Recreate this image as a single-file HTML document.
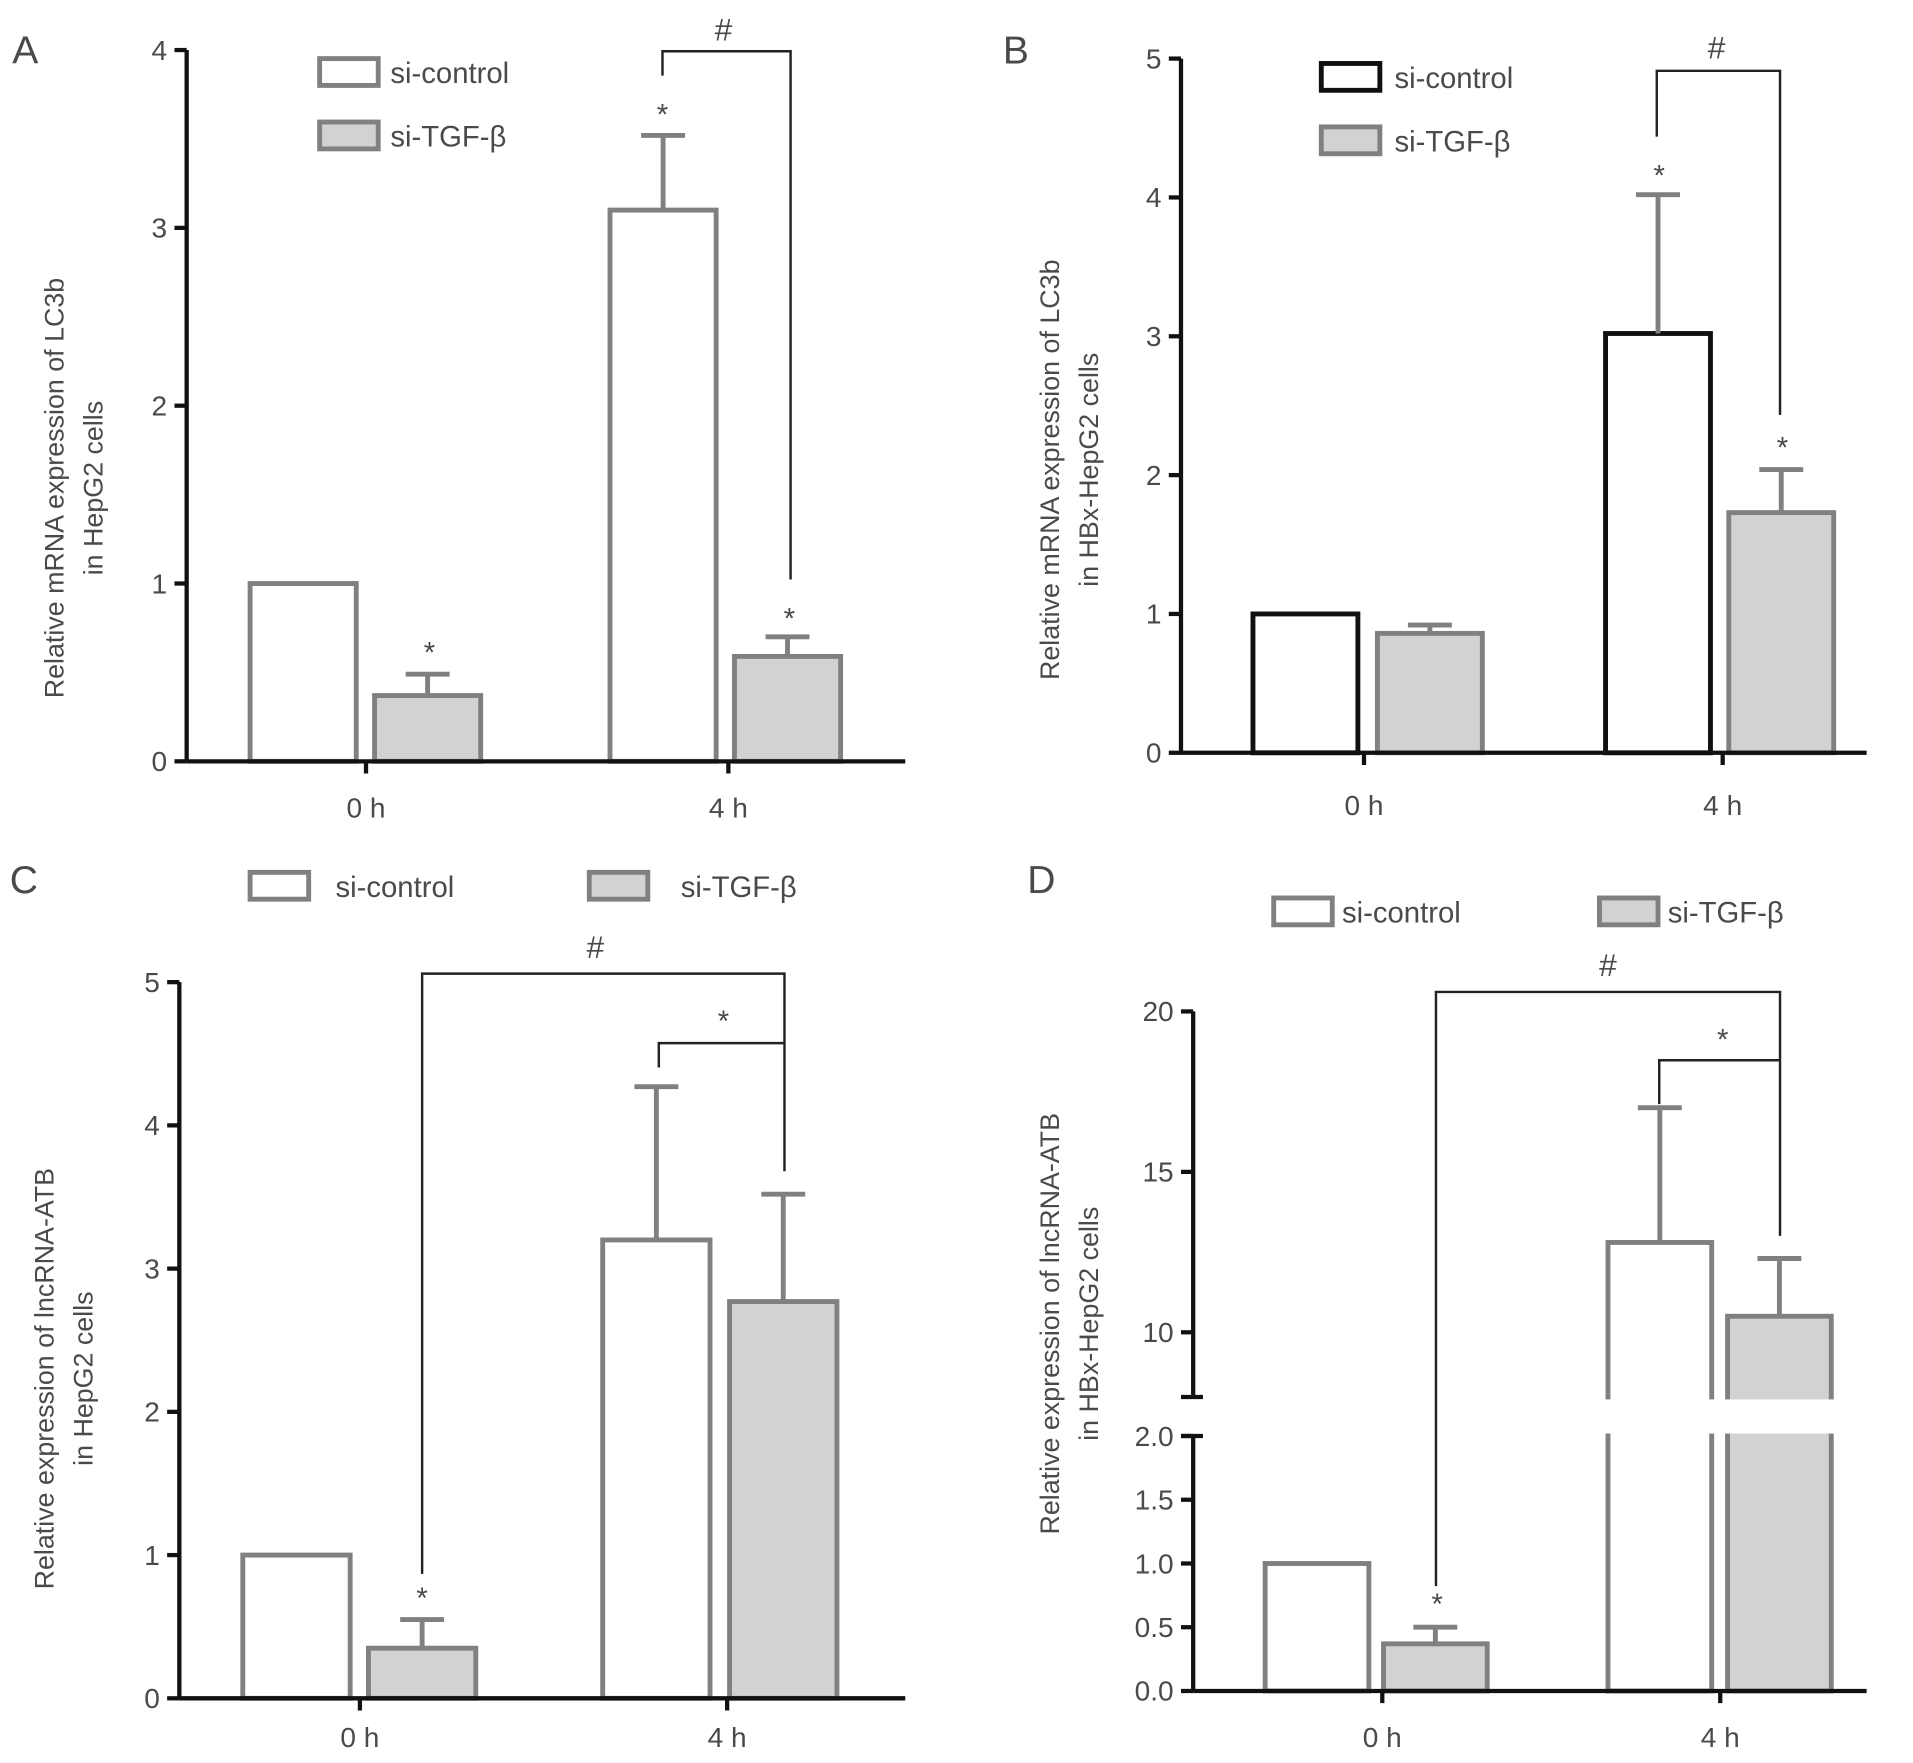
<!DOCTYPE html>
<html><head><meta charset="utf-8"><style>
html,body{margin:0;padding:0;background:#fff;}
svg{display:block;}
text{font-family:"Liberation Sans",sans-serif;fill:#4a4a4a;}
</style></head><body>
<svg id="fig" width="1913" height="1763" viewBox="0 0 1568 1445" xmlns="http://www.w3.org/2000/svg"></svg>
<script>
// Data
const categories = ["0 h", "4 h"];
const seriesNames = ["si-control", "si-TGF-\u03b2"];
const A_values = [[1, 3.1], [0.37, 0.59]];
const A_err = [[1, 3.52], [0.49, 0.70]];
const A_ticks = [0, 1, 2, 3, 4];
const B_values = [[1, 3.02], [0.86, 1.73]];
const B_err = [[1, 4.02], [0.92, 2.04]];
const B_ticks = [0, 1, 2, 3, 4, 5];
const C_values = [[1, 3.2], [0.35, 2.77]];
const C_err = [[1, 4.27], [0.55, 3.52]];
const C_ticks = [0, 1, 2, 3, 4, 5];
const D_values = [[1, 12.8], [0.37, 10.5]];
const D_err = [[1, 17.0], [0.5, 12.3]];
const D_ticksLow = ["0.0", "0.5", "1.0", "1.5", "2.0"];
const D_ticksHigh = [10, 15, 20];

const NS = "http://www.w3.org/2000/svg";
const svg = document.getElementById("fig");
function el(tag, attrs, parent, txt) {
  const e = document.createElementNS(NS, tag);
  for (const k in attrs) e.setAttribute(k, attrs[k]);
  if (txt !== undefined) e.textContent = txt;
  (parent || svg).appendChild(e);
  return e;
}
const GREY = "#808080", FILL = "#d2d2d2";

function panel(cfg) {
  const g = el("g", {});
  
  
  const y = cfg.y;
  // panel letter
  const lt = el("text", {x: cfg.letter[0], y: cfg.letter[1], "font-size": 32, fill: "#222"}, g, cfg.letterText);
  
  
  // bars
  for (let s = 0; s < 2; s++) {
    for (let c = 0; c < 2; c++) {
      const x0 = cfg.barX[c][s], w = cfg.barW;
      const v = cfg.values[s][c], e = cfg.err[s][c];
      const top = y(v), base = cfg.y0;
      const stroke = (cfg.black && s === 0) ? "#111" : GREY;
      const r = el("rect", {x: x0, y: top, width: w, height: base - top, fill: s ? FILL : "#fff", stroke: stroke, "stroke-width": 4}, g);
      
      
      if (e > v + 0.001) {
        const cx = x0 + w / 2;
        const eb = el("path", {d: `M${cx},${top}V${y(e)}M${cx - 18},${y(e)}H${cx + 18}`, stroke: GREY, "stroke-width": 4, fill: "none"}, g);
        
        
      }
    }
  }
  if (cfg.gap) {
    const gp = el("rect", {x: cfg.ax + 10, y: cfg.gap[0], width: 560, height: cfg.gap[1] - cfg.gap[0], fill: "#fff"}, g);
    
    
  }
  // axes
  const yax = el("path", {d: cfg.yAxisPath, stroke: "#111", "stroke-width": 3.5, fill: "none"}, g);
  
  
  const xax = el("path", {d: `M${cfg.ax},${cfg.y0}H${cfg.axEnd}` + cfg.catX.map(cx => `M${cx},${cfg.y0}V${cfg.y0 + 10}`).join(""), stroke: "#111", "stroke-width": 3.5, fill: "none"}, g);
  
  
  cfg.ticks.forEach(t => {
    const ty = y(parseFloat(t));
    el("path", {d: `M${cfg.ax - 10},${ty}H${cfg.ax}`, stroke: "#111", "stroke-width": 3.5}, g);
    const tl = el("text", {x: cfg.ax - 16, y: ty + 8, "text-anchor": "end", "font-size": 23}, g, t);
    
    
  });
  categories.forEach((c, i) => {
    const t = el("text", {x: cfg.catX[i], y: cfg.catY, "text-anchor": "middle", "font-size": 23}, g, c);
    
    
  });
  // y title
  const tt = el("text", {transform: `translate(${cfg.title[0]},${cfg.title[1]}) rotate(-90)`, "text-anchor": "middle", "font-size": 22}, g);
  
  
  el("tspan", {x: 0, dy: 0}, tt, cfg.titleLines[0]);
  el("tspan", {x: 0, dy: 32}, tt, cfg.titleLines[1]);
  // legend
  cfg.legend.forEach((p, i) => {
    const lg = el("g", {}, g);
    
    
    el("rect", {x: p[0], y: p[1], width: 48, height: 22, fill: i ? FILL : "#fff", stroke: (cfg.black && i === 0) ? "#111" : GREY, "stroke-width": 4}, lg);
    el("text", {x: p[2], y: p[1] + 20, "font-size": 24}, lg, seriesNames[i]);
  });
  // brackets and stars
  cfg.brackets.forEach(d => {
    const b = el("path", {d: d, stroke: "#222", "stroke-width": 2, fill: "none"}, g);
    
    
  });
  cfg.marks.forEach(m => {
    const t = el("text", {x: m[0], y: m[1], "text-anchor": "middle", "font-size": m[2] === "#" ? 26 : 24, fill: "#222"}, g, m[2]);
    
    
  });
}
function lin(y0, y1, vmax) { return v => y0 - (y0 - y1) * v / vmax; }

const yA = lin(624, 41, 4);
panel({name: "panel-a", letterText: "A", letter: [10, 52], y: yA, y0: 624, ax: 153, axEnd: 742,
  yAxisPath: "M153,41V624", values: A_values, err: A_err, ticks: A_ticks, barW: 87,
  barX: [[205, 307], [500, 602]], catX: [300, 597], catY: 670,
  title: [52, 400], titleLines: ["Relative mRNA expression of LC3b", "in HepG2 cells"],
  legend: [[262, 48, 320], [262, 100, 320]],
  brackets: ["M543,62V42H648V475"],
  marks: [[593, 33, "#"], [543, 102, "*"], [352, 543, "*"], [647, 515, "*"]]});

const yB = lin(617, 48, 5);
panel({name: "panel-b", letterText: "B", letter: [822, 52], y: yB, y0: 617, ax: 968, axEnd: 1530, black: true,
  yAxisPath: "M968,48V617", values: B_values, err: B_err, ticks: B_ticks, barW: 86,
  barX: [[1027, 1129], [1316, 1417]], catX: [1118, 1412], catY: 668,
  title: [868, 385], titleLines: ["Relative mRNA expression of LC3b", "in HBx-HepG2 cells"],
  legend: [[1083, 52, 1143], [1083, 104, 1143]],
  brackets: ["M1358,112V58H1459V340"],
  marks: [[1407, 48, "#"], [1360, 152, "*"], [1461, 375, "*"]]});

const yC = lin(1392, 805, 5);
panel({name: "panel-c", letterText: "C", letter: [8, 732], y: yC, y0: 1392, ax: 147, axEnd: 742,
  yAxisPath: "M147,805V1392", values: C_values, err: C_err, ticks: C_ticks, barW: 88,
  barX: [[199, 302], [494, 598]], catX: [295, 596], catY: 1432,
  title: [44, 1130], titleLines: ["Relative expression of lncRNA-ATB", "in HepG2 cells"],
  legend: [[205, 715, 275], [483, 715, 558]],
  brackets: ["M346,1290V798H643V960", "M540,875V855H643"],
  marks: [[488, 785, "#"], [593, 845, "*"], [346, 1318, "*"]]});

// Panel D: broken axis
const D_low0 = 1386, D_low2 = 1177, D_hi10 = 1092, D_hi20 = 829;
function yD(v) {
  if (v <= 2.2) return D_low0 - (D_low0 - D_low2) * v / 2;
  return D_hi10 - (D_hi10 - D_hi20) * (v - 10) / 10;
}
panel({name: "panel-d", letterText: "D", letter: [842, 732], y: yD, y0: 1386, ax: 978, axEnd: 1530,
  yAxisPath: "M978,829V1145M968,1145H986M968,1177H986M978,1177V1386",
  values: D_values, err: D_err, ticks: D_ticksLow.concat(D_ticksHigh.map(String)), barW: 85,
  barX: [[1037, 1134], [1318, 1416]], catX: [1133, 1410], catY: 1432, gap: [1147, 1175],
  title: [868, 1085], titleLines: ["Relative expression of lncRNA-ATB", "in HBx-HepG2 cells"],
  legend: [[1044, 736, 1100], [1311, 736, 1367]],
  brackets: ["M1177,1300V813H1459V1013", "M1360,905V869H1459"],
  marks: [[1318, 800, "#"], [1412, 860, "*"], [1178, 1323, "*"]]});
</script>
</body></html>
